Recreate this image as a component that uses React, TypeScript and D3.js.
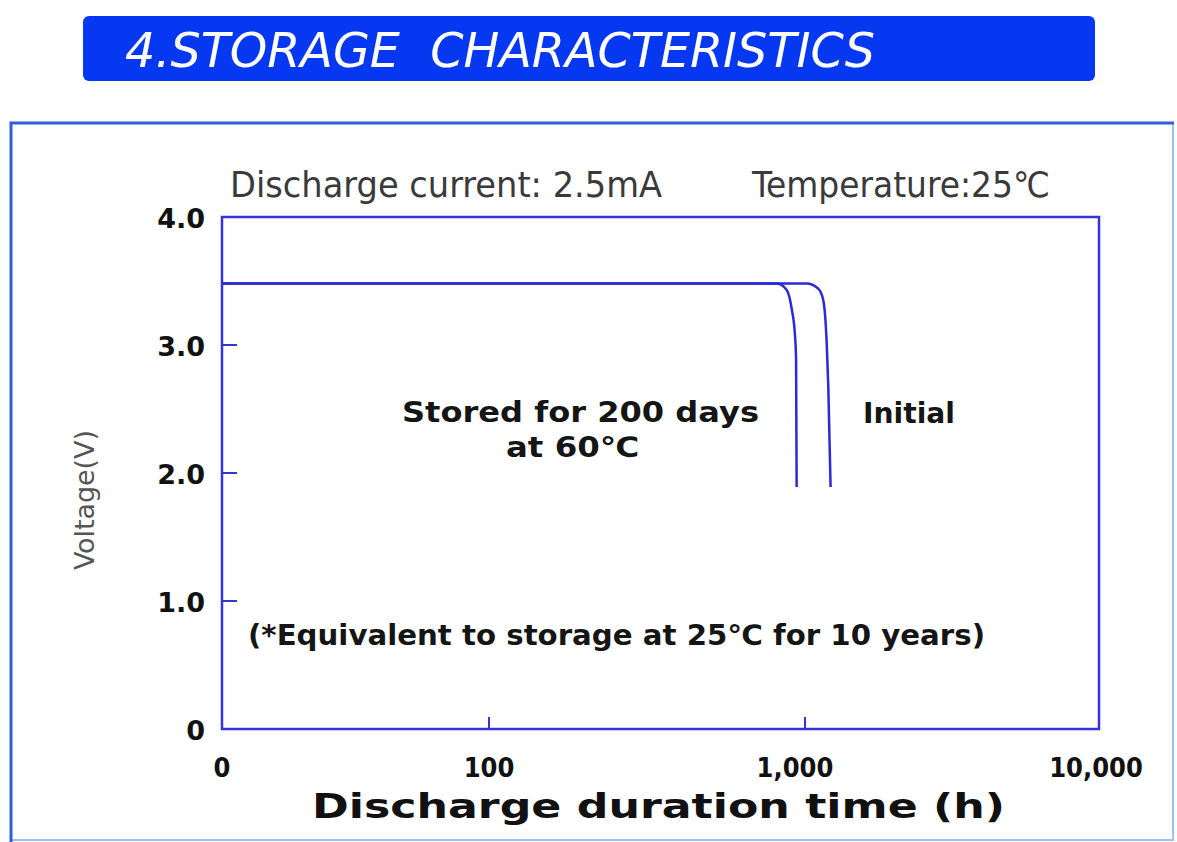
import React, { useEffect, useRef } from 'react';
import * as d3 from 'd3';

// discharge curves: hours vs volts
const initialHours = [10, 300, 1013, 1109, 1154, 1185, 1200, 1222];
const initialVolts = [3.48, 3.48, 3.48, 3.44, 3.35, 3.02, 2.68, 1.89];
const storedHours = [10, 300, 814, 875, 908, 930, 937, 941];
const storedVolts = [3.48, 3.48, 3.48, 3.43, 3.28, 3.07, 2.89, 1.89];

const xTicks = [10, 100, 1000, 10000];
const xTickLabels = ['0', '100', '1,000', '10,000'];
const yTicks = [0, 1, 2, 3, 4];
const yTickLabels = ['0', '1.0', '2.0', '3.0', '4.0'];

const LINE = '#2a2ad8';

const App = () => {
    const ref = useRef<SVGSVGElement>(null);

    useEffect(() => {
        drawChart();
    }, []);

    const drawChart = () => {
        const svg = d3.select(ref.current);
        svg.selectAll('*').remove();

        svg.append('rect').attr('width', 1177).attr('height', 842).attr('fill', '#fff');

        // title banner
        svg.append('rect')
            .attr('x', 83).attr('y', 16).attr('width', 1012).attr('height', 65)
            .attr('rx', 6).attr('fill', '#0638f2');
        svg.append('text')
            .attr('x', 125).attr('y', 67)
            .attr('style', 'white-space: pre')
            .attr('font-family', 'DejaVu Sans Condensed').attr('font-style', 'italic')
            .attr('font-size', 48).attr('fill', '#fff')
            .attr('textLength', 750).attr('lengthAdjust', 'spacingAndGlyphs')
            .text('4.STORAGE  CHARACTERISTICS');

        // outer frame
        svg.append('path')
            .attr('d', 'M1173,123 L1173,840 L11,840')
            .attr('fill', 'none').attr('stroke', '#9cc0f2').attr('stroke-width', 2);
        svg.append('path')
            .attr('d', 'M11,842 L11,123 L1174,123')
            .attr('fill', 'none').attr('stroke', '#2f5fe0').attr('stroke-width', 3);

        const x = d3.scaleLog()
            .domain([10, 100, 1000, 10000])
            .range([222, 489, 805, 1099]);
        const y = d3.scaleLinear().domain([0, 4]).range([729, 217]);

        const g = svg.append('g');

        // plot box
        g.append('rect')
            .attr('x', x(10)).attr('y', y(4))
            .attr('width', x(10000) - x(10)).attr('height', y(0) - y(4))
            .attr('fill', 'none').attr('stroke', '#3434dc').attr('stroke-width', 2.5);

        // inner ticks
        g.selectAll('.ytick').data(yTicks.slice(1, 4)).enter().append('line')
            .attr('x1', x(10)).attr('x2', x(10) + 15)
            .attr('y1', d => y(d)).attr('y2', d => y(d))
            .attr('stroke', '#3434dc').attr('stroke-width', 2);
        g.selectAll('.xtick').data(xTicks.slice(1, 3)).enter().append('line')
            .attr('x1', d => x(d)).attr('x2', d => x(d))
            .attr('y1', y(0)).attr('y2', y(0) - 12)
            .attr('stroke', '#3434dc').attr('stroke-width', 2);

        // tick labels
        g.selectAll('.ylab').data(yTicks).enter().append('text')
            .attr('x', 205).attr('y', d => y(d) + 11)
            .attr('text-anchor', 'end')
            .attr('font-family', 'DejaVu Sans').attr('font-weight', 'bold')
            .attr('font-size', 27).attr('fill', '#111')
            .text((d, i) => yTickLabels[i]);
        g.selectAll('.xlab').data(xTicks).enter().append('text')
            .attr('x', (d, i) => x(d) + (i === 2 ? -10 : i === 3 ? -3 : 0)).attr('y', 777)
            .attr('text-anchor', 'middle')
            .attr('font-family', 'DejaVu Sans Condensed').attr('font-weight', 'bold')
            .attr('font-size', 27).attr('fill', '#111')
            .text((d, i) => xTickLabels[i]);

        // axis titles
        svg.append('text')
            .attr('transform', 'translate(94,500) rotate(-90)')
            .attr('text-anchor', 'middle')
            .attr('font-family', 'DejaVu Sans Condensed')
            .attr('font-size', 27).attr('fill', '#555')
            .attr('textLength', 140).attr('lengthAdjust', 'spacingAndGlyphs')
            .text('Voltage(V)');
        svg.append('text')
            .attr('x', 312).attr('y', 818)
            .attr('font-family', 'DejaVu Sans').attr('font-weight', 'bold')
            .attr('font-size', 33).attr('fill', '#111')
            .attr('textLength', 693).attr('lengthAdjust', 'spacingAndGlyphs')
            .text('Discharge duration time (h)');

        // conditions
        const cond = [
            { text: 'Discharge current: 2.5mA', x: 230, w: 432 },
            { text: 'Temperature:25℃', x: 752, w: 298 },
        ];
        svg.selectAll('.cond').data(cond).enter().append('text')
            .attr('x', d => d.x).attr('y', 197)
            .attr('font-family', 'DejaVu Sans Condensed')
            .attr('font-size', 35).attr('fill', '#3a3a3a')
            .attr('textLength', d => d.w).attr('lengthAdjust', 'spacingAndGlyphs')
            .text(d => d.text);

        // curves
        const line = d3.line<[number, number]>()
            .x(d => x(d[0]))
            .y(d => y(d[1]))
            .curve(d3.curveMonotoneX);
        const series = [
            initialHours.map((h, i) => [h, initialVolts[i]] as [number, number]),
            storedHours.map((h, i) => [h, storedVolts[i]] as [number, number]),
        ];
        g.selectAll('.curve').data(series).enter().append('path')
            .attr('d', d => line(d))
            .attr('fill', 'none').attr('stroke', LINE).attr('stroke-width', 2.5);

        // annotations
        const notes = [
            { text: 'Stored for 200 days', x: 402, y: 422, w: 357 },
            { text: 'at 60℃', x: 506, y: 457, w: 133 },
            { text: 'Initial', x: 863, y: 423, w: 92 },
            { text: '(*Equivalent to storage at 25℃ for 10 years)', x: 248, y: 645, w: 737 },
        ];
        svg.selectAll('.note').data(notes).enter().append('text')
            .attr('x', d => d.x).attr('y', d => d.y)
            .attr('font-family', 'DejaVu Sans').attr('font-weight', 'bold')
            .attr('font-size', 28).attr('fill', '#151515')
            .attr('textLength', d => d.w).attr('lengthAdjust', 'spacingAndGlyphs')
            .text(d => d.text);
    };

    return (
        <svg ref={ref} width={1177} height={842}
            style={{ position: 'absolute', left: 0, top: 0, display: 'block' }}></svg>
    );
};

export default App;
